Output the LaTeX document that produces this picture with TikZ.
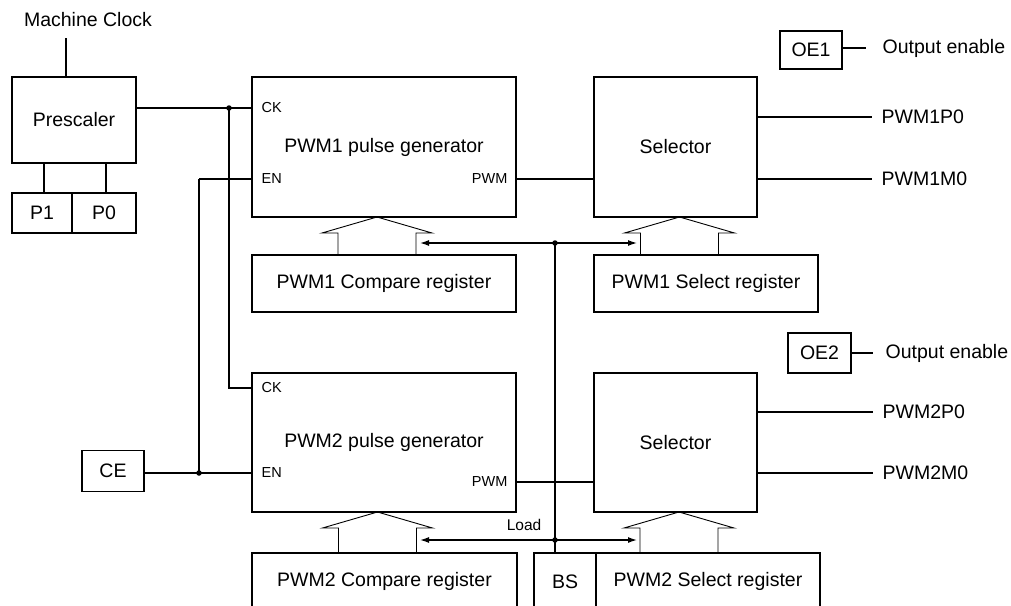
\documentclass[tikz,border=0pt]{standalone}
\usepackage{fontspec}
\setmainfont{Liberation Sans}
\usetikzlibrary{arrows.meta}
\begin{document}
\begin{tikzpicture}[x=1pt,y=-1pt,line width=1.3pt,
  blk/.style={draw,inner sep=0pt,outer sep=0pt,font=\fontsize{19.5}{22}\selectfont},
  lbl/.style={inner sep=0pt,font=\fontsize{19.5}{22}\selectfont},
  pinlbl/.style={inner sep=0pt,font=\fontsize{14.5}{17}\selectfont},
  dotj/.style={circle,fill,inner sep=0pt,minimum size=5.5pt},
  ldarr/.style={{Latex[length=9pt,width=6pt]}-{Latex[length=9pt,width=6pt]}},
  pics/bigarrow/.style={code={
    \draw[line width=0.9pt] (-39,#1) -- (-39,16) -- (-55,16) -- (0,0) -- (55,16) -- (39,16) -- (39,#1);}}
]
\useasboundingbox (0,0) rectangle (1011,605);
\clip (0,0) rectangle (1011,605);

% blocks
\node[blk,minimum width=124pt,minimum height=86pt] (pre) at (74,120) {Prescaler};
\node[blk,minimum width=60pt,minimum height=40pt] (p1) at (42,213) {P1};
\node[blk,minimum width=64pt,minimum height=40pt] (p0) at (104,213) {P0};
\node[blk,minimum width=264pt,minimum height=140pt] (gen1) at (384,147) {PWM1 pulse generator};
\node[blk,minimum width=163pt,minimum height=140pt] (sel1) at (675.5,147) {Selector};
\node[blk,minimum width=264pt,minimum height=57pt] (cmp1) at (384,283.5) {PWM1 Compare register};
\node[blk,minimum width=224pt,minimum height=57pt] (sreg1) at (706,283.5) {PWM1 Select register};
\node[blk,minimum width=62pt,minimum height=38pt] (oe1) at (811,50) {OE1};
\node[blk,minimum width=63pt,minimum height=40pt] (oe2) at (819.5,353) {OE2};
\node[blk,minimum width=62pt,minimum height=41pt] (ce) at (113,471) {CE};
\node[blk,minimum width=264pt,minimum height=139pt] (gen2) at (384,442.5) {PWM2 pulse generator};
\node[blk,minimum width=163pt,minimum height=139pt] (sel2) at (675.5,442.5) {Selector};
\node[blk,minimum width=265pt,minimum height=57pt] (cmp2) at (384.5,581.5) {PWM2 Compare register};
\node[blk,minimum width=62pt,minimum height=57pt] (bs) at (565,581.5) {BS};
\node[blk,minimum width=224pt,minimum height=57pt] (sreg2) at (708,581.5) {PWM2 Select register};

% labels
\node[lbl] (mc) at (88,20) {Machine Clock};
\node[pinlbl,anchor=west] (ck1) at (261,108) {CK};
\node[pinlbl,anchor=west] (en1) at (261,179) {EN};
\node[pinlbl,anchor=east] (pwm1) at (508,179) {PWM};
\node[pinlbl,anchor=west] (ck2) at (261,388) {CK};
\node[pinlbl,anchor=west] (en2) at (261,473) {EN};
\node[pinlbl,anchor=east] (pwm2) at (508,482) {PWM};
\node[pinlbl,font=\fontsize{15.5}{18}\selectfont] (load) at (524,525) {Load};
\node[lbl,anchor=west] (o1e) at (882,48) {Output enable};
\node[lbl,anchor=west] (o1p) at (881,117) {PWM1P0};
\node[lbl,anchor=west] (o1m) at (881,179) {PWM1M0};
\node[lbl,anchor=west] (o2e) at (885,353) {Output enable};
\node[lbl,anchor=west] (o2p) at (882,412) {PWM2P0};
\node[lbl,anchor=west] (o2m) at (882,473) {PWM2M0};

% junctions and helper coordinates
\node[dotj] (d1) at (229,108) {};
\node[dotj] (d2) at (555,243) {};
\node[dotj] (d3) at (199,473) {};
\node[dotj] (d4) at (555,540) {};
\coordinate (mcb) at (66,38);
\coordinate (pl1) at (44,178);
\coordinate (pl0) at (106,178);
\coordinate (enj) at (199,179);
\coordinate (l1l) at (420,243);
\coordinate (l1r) at (637,243);
\coordinate (l2l) at (420,540);
\coordinate (l2r) at (637,540);

% clock and prescaler
\draw (mcb) -- (mcb |- pre.north);
\draw (pl1 |- pre.south) -- (pl1 |- p1.north);
\draw (pl0 |- pre.south) -- (pl0 |- p0.north);
\draw (pre.east |- d1) -- (gen1.west |- d1);
\draw (d1.center) -- (d1 |- ck2) -- (gen2.west |- ck2);

% enable
\draw (enj) -- (gen1.west |- enj);
\draw (enj) -- (d3.center);
\draw (ce.east |- d3) -- (gen2.west |- d3);

% PWM outputs
\draw (gen1.east |- pwm1) -- (sel1.west |- pwm1);
\draw (gen2.east |- pwm2) -- (sel2.west |- pwm2);

% selector outputs
\draw (sel1.east |- o1p) -- ([xshift=-9pt]o1p.west);
\draw (sel1.east |- o1m) -- ([xshift=-9pt]o1m.west);
\draw (sel2.east |- o2p) -- ([xshift=-9pt]o2p.west);
\draw (sel2.east |- o2m) -- ([xshift=-9pt]o2m.west);
\draw (oe1.east |- o1e) -- ([xshift=-16pt]o1e.west);
\draw (oe2.east) -- ([xshift=-12pt]o2e.west);

% register transfer arrows
\pic at (377,217) {bigarrow=38};
\pic at (679.5,217) {bigarrow=38};
\pic at (377.5,512) {bigarrow=41};
\pic at (679,512) {bigarrow=41};

% load bus
\draw[ldarr] (l1l) -- (l1r);
\draw[ldarr] (l2l) -- (l2r);
\draw (d2.center) -- (d2 |- bs.north);
\end{tikzpicture}
\end{document}
